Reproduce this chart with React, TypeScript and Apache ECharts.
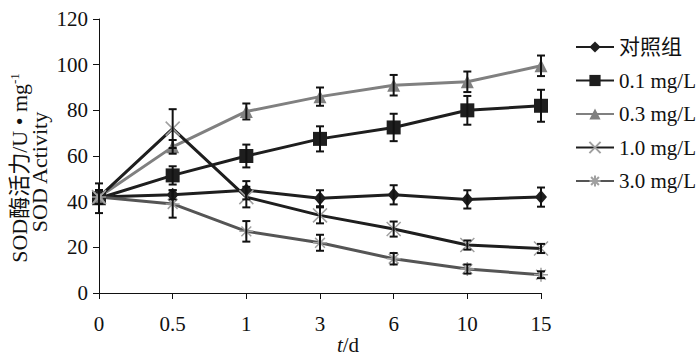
import React, { useEffect, useRef } from "react";
import * as echarts from "echarts";

const categories = ["0", "0.5", "1", "3", "6", "10", "15"];
const yTicks = { min: 0, max: 120, interval: 20 };

const seriesNames = ["对照组", "0.1 mg/L", "0.3 mg/L", "1.0 mg/L", "3.0 mg/L"];
const control = [42, 43, 45, 41.5, 43, 41, 42];
const dose01 = [41.5, 51.5, 60, 67.5, 72.5, 80, 82];
const dose03 = [42, 64, 79.5, 86, 91, 92.5, 99.5];
const dose10 = [42, 72, 42, 34, 28, 21, 19.5];
const dose30 = [42, 39, 27, 22, 15, 10.5, 8];

const errControl = [3, 2, 4, 3.5, 4.2, 4, 4.2];
const err01 = [6.5, 4, 5, 5.5, 6, 6.3, 7];
const err03 = [3, 3, 3.5, 4, 4.5, 4.5, 4.5];
const err10 = [3, 8.5, 4.5, 3.5, 3.3, 2, 2];
const err30 = [3, 6, 4.5, 3.5, 2.5, 2, 1.5];

const FONT = "'Liberation Serif', 'Times New Roman', 'Noto Sans CJK SC', serif";

export default function App() {
  const ref = useRef<HTMLDivElement>(null);
  useEffect(() => {
    if (!ref.current) return;
    document.body.style.margin = "0";
    const chart = echarts.init(ref.current, null, { renderer: "svg" });

    const values = [control, dose01, dose03, dose10, dose30];
    const errs = [errControl, err01, err03, err10, err30];
    const lineColors = ["#1e1e1e", "#1e1e1e", "#808080", "#1e1e1e", "#555555"];
    const markerColors = ["#1e1e1e", "#1e1e1e", "#808080", "#a0a0a0", "#a0a0a0"];
    const symbols = [
      "diamond",
      "rect",
      "triangle",
      "path://M0,0L10,10M10,0L0,10",
      "path://M5,0L5,10M0,5L10,5M1.5,1.5L8.5,8.5M8.5,1.5L1.5,8.5",
    ];
    const sizes: any[] = [[12, 14], 14, 13, 14, 14];

    const lineSeries = seriesNames.map((name, i) => ({
      name,
      type: "line",
      data: values[i],
      symbol: symbols[i],
      symbolSize: sizes[i],
      showSymbol: true,
      lineStyle: { color: lineColors[i], width: 3 },
      itemStyle: {
        color: markerColors[i],
        borderColor: markerColors[i],
        borderWidth: i >= 3 ? 1.5 : 0,
      },
      z: 3,
    }));

    const errData: number[][] = [];
    values.forEach((vals, s) => {
      vals.forEach((v, k) => {
        errData.push([k, v - errs[s][k], v + errs[s][k]]);
      });
    });

    const errSeries = {
      type: "custom",
      name: "err",
      data: errData,
      z: 5,
      silent: true,
      renderItem: (params: any, api: any) => {
        const x = api.value(0);
        const lo = api.coord([x, api.value(1)]);
        const hi = api.coord([x, api.value(2)]);
        const w = 4;
        const style = { stroke: "#111", lineWidth: 2 };
        return {
          type: "group",
          children: [
            { type: "line", shape: { x1: lo[0], y1: lo[1], x2: hi[0], y2: hi[1] }, style },
            { type: "line", shape: { x1: lo[0] - w, y1: lo[1], x2: lo[0] + w, y2: lo[1] }, style },
            { type: "line", shape: { x1: hi[0] - w, y1: hi[1], x2: hi[0] + w, y2: hi[1] }, style },
          ],
        };
      },
    };

    chart.setOption({
      animation: false,
      backgroundColor: "#ffffff",
      textStyle: { fontFamily: FONT },
      grid: { left: 99, right: 159, top: 19, bottom: 66 },
      legend: {
        orient: "vertical",
        left: 570,
        top: 31,
        itemWidth: 38,
        itemHeight: 14,
        itemGap: 11.5,
        data: seriesNames,
        textStyle: { fontFamily: FONT, fontSize: 21, color: "#111", lineHeight: 22 },
      },
      xAxis: {
        type: "category",
        data: categories,
        boundaryGap: false,
        axisLine: { lineStyle: { color: "#111", width: 1 } },
        axisTick: { show: true, inside: false, length: 6, alignWithLabel: true, lineStyle: { color: "#111" } },
        axisLabel: { fontFamily: FONT, fontSize: 21, color: "#111", margin: 20 },
        splitLine: { show: false },
      },
      yAxis: {
        type: "value",
        min: yTicks.min,
        max: yTicks.max,
        interval: yTicks.interval,
        axisLine: { show: true, lineStyle: { color: "#111", width: 1 } },
        axisTick: { show: true, length: 6, lineStyle: { color: "#111" } },
        axisLabel: { fontFamily: FONT, fontSize: 21, color: "#111", margin: 11 },
        splitLine: { show: false },
      },
      graphic: [
        {
          type: "text",
          x: 348,
          y: 345,
          style: {
            text: "{i|t}/d",
            rich: {
              i: { fontStyle: "italic", fontFamily: FONT, fontSize: 21, fill: "#111" },
            },
            fontFamily: FONT,
            fontSize: 21,
            fill: "#111",
            align: "center",
            verticalAlign: "middle",
          },
        },
        {
          type: "text",
          x: 19,
          y: 168,
          rotation: Math.PI / 2,
          style: {
            text: "SOD酶活力/U • mg{s|-1}",
            rich: {
              s: { fontSize: 13, fontFamily: FONT, fill: "#111", verticalAlign: "top", padding: [0, 0, 9, 0] },
            },
            fontFamily: FONT,
            fontSize: 22,
            fill: "#111",
            align: "center",
            verticalAlign: "middle",
          },
        },
        {
          type: "text",
          x: 39,
          y: 172,
          rotation: Math.PI / 2,
          style: {
            text: "SOD Activity",
            fontFamily: FONT,
            fontSize: 22,
            fill: "#111",
            align: "center",
            verticalAlign: "middle",
          },
        },
      ],
      series: [...lineSeries, errSeries],
    });

    return () => chart.dispose();
  }, []);

  return <div ref={ref} style={{ width: 700, height: 359 }} />;
}
